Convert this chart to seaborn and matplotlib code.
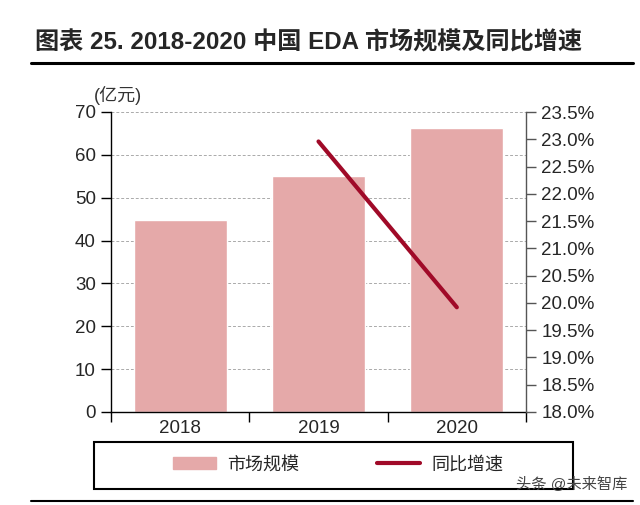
import numpy as np
import pandas as pd
import matplotlib
matplotlib.use('Agg')
import matplotlib.pyplot as plt
import seaborn as sns
from matplotlib.patches import Rectangle
from matplotlib.lines import Line2D
from matplotlib.ticker import FuncFormatter, MultipleLocator

sns.set_style('white')
plt.rcParams['font.family'] = ['Liberation Sans', 'Noto Sans CJK SC', 'DejaVu Sans']

# 데이터
years = ['2018', '2019', '2020']
market_size = [44.8, 55.0, 66.3]          # 市场规模 (亿元)
growth = [np.nan, 22.96, 19.92]           # 同比增速 (%)

df = pd.DataFrame({'year': years, 'size': market_size, 'growth': growth})
df['pos'] = np.arange(len(years))

bar_color = '#E5A9A9'
line_color = '#A00A28'

fig = plt.figure(figsize=(6.4, 5.05), dpi=100)
ax = fig.add_axes([111/640, 93/505, 415/640, 300/505])

sns.barplot(data=df, x='year', y='size', color=bar_color, width=0.67,
            saturation=1, ax=ax)
ax.set_xlim(-0.5, 2.5)
ax.set_ylim(0, 70)
ax.yaxis.set_major_locator(MultipleLocator(10))
ax.set_xlabel('')
ax.set_ylabel('')
ax.grid(axis='y', color='#aaaaaa', linestyle=(0, (3, 2)), linewidth=0.7)
ax.set_axisbelow(True)
for s in ['top', 'right']:
    ax.spines[s].set_visible(False)
for s in ['left', 'bottom']:
    ax.spines[s].set_color('black')
    ax.spines[s].set_linewidth(1.0)
ax.tick_params(axis='y', direction='out', length=7, width=1, color='black',
               left=True, labelsize=13.5, pad=4)
ax.tick_params(axis='x', which='major', length=0, labelsize=13.5, pad=6)
ax.set_xticks([-0.5, 0.5, 1.5, 2.5], minor=True)
ax.tick_params(axis='x', which='minor', direction='out', length=7, width=1,
               color='black', bottom=True)

# 우축: 同比增速
ax2 = ax.twinx()
sns.lineplot(data=df, x='pos', y='growth', color=line_color, linewidth=3,
             ax=ax2)
ax2.set_ylim(18, 23.5)
ax2.yaxis.set_major_locator(MultipleLocator(0.5))
ax2.yaxis.set_major_formatter(FuncFormatter(lambda v, p: f'{v:.1f}%'))
ax2.set_xlim(-0.5, 2.5)
ax2.set_xlabel('')
ax2.set_ylabel('')
ax2.grid(False)
for s in ['top', 'left', 'bottom']:
    ax2.spines[s].set_visible(False)
ax2.spines['right'].set_color('#555555')
ax2.spines['right'].set_linewidth(1.0)
ax2.tick_params(axis='y', direction='out', length=7, width=1, color='#555555',
                right=True, labelsize=13.5, pad=4)

ax.text(-0.042, 1.055, '(亿元)', transform=ax.transAxes, fontsize=13,
        color='#333333', ha='left', va='center')

# 제목
fig.text(35/640, 1 - 43/505, '图表 25. 2018-2020 中国 EDA 市场规模及同比增速',
         fontsize=17.4, fontweight='bold', ha='left', va='center')
fig.add_artist(Line2D([31/640, 633/640], [1 - 63/505, 1 - 63/505],
                      color='black', linewidth=2.2))
fig.add_artist(Line2D([31/640, 633/640], [1 - 501/505, 1 - 501/505],
                      color='black', linewidth=1.5))

# 범례
fig.add_artist(Rectangle((94/640, 1 - 489/505), (573 - 94)/640, 47/505,
                         transform=fig.transFigure, fill=False,
                         edgecolor='black', linewidth=1.5))
handles = [Rectangle((0, 0), 1, 1, color=bar_color),
           Line2D([0], [0], color=line_color, linewidth=3)]
fig.legend(handles, ['市场规模', '同比增速'], ncol=2, frameon=False,
           loc='center', bbox_to_anchor=(338/640, 1 - 465/505),
           fontsize=13, handlelength=2.4, handleheight=0.6,
           handletextpad=0.6, columnspacing=4.3)

fig.text(627/640, 1 - 484/505, '头条 @未来智库', fontsize=11,
         color='#444444', ha='right', va='center')

fig.savefig('out.png', dpi=100)
